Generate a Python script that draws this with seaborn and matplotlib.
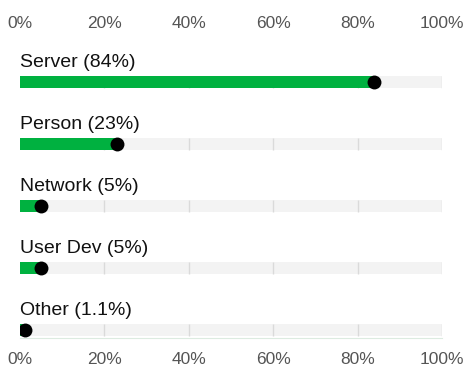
import matplotlib
matplotlib.use("Agg")
import matplotlib.pyplot as plt
import seaborn as sns
import pandas as pd

# Share of incidents by asset category (percent)
categories = ["Server", "Person", "Network", "User Dev", "Other"]
values = [84, 23, 5, 5, 1.1]
x_ticks = [0, 20, 40, 60, 80, 100]
x_tick_labels = ["0%", "20%", "40%", "60%", "80%", "100%"]

GREEN = "#00B140"
TRACK = "#F3F3F3"
GRID = "#DADADA"

sns.set_theme(style="white")
plt.rcParams["font.family"] = ["Liberation Sans", "DejaVu Sans"]

df = pd.DataFrame({"category": categories, "value": values, "full": [100] * len(values)})

fig = plt.figure(figsize=(4.66, 3.66), dpi=100)
ax = fig.add_axes([20 / 466, 28 / 366, 422 / 466, 306 / 366])

bar_h = 0.19

# background tracks
sns.barplot(data=df, x="full", y="category", orient="h", color=TRACK,
            saturation=1, width=bar_h, ax=ax, linewidth=0)
n_track = len(ax.patches)
for p in ax.patches:
    p.set_zorder(1)

# faint gridlines inside each track
for i in range(len(categories)):
    ax.vlines(x_ticks[1:], i - bar_h / 2, i + bar_h / 2, color=GRID, lw=1, zorder=1.5)

# value bars
sns.barplot(data=df, x="value", y="category", orient="h", color=GREEN,
            saturation=1, width=bar_h, ax=ax, linewidth=0)
for p in ax.patches[n_track:]:
    p.set_zorder(2)

# end-cap dots
sns.scatterplot(data=df, x="value", y="category", color="black", s=100,
                linewidth=0, ax=ax, zorder=3, legend=False)

# category labels above each bar
for i, (cat, v) in enumerate(zip(categories, values)):
    ax.annotate(f"{cat} ({v:g}%)", xy=(0, i), xytext=(0, 10.8),
                textcoords="offset points", ha="left", va="baseline",
                fontsize=14, color="#111111", annotation_clip=False)

ax.set_xlim(0, 100)
ax.set_ylim(4.129, -0.8)
ax.set_xticks(x_ticks)
ax.set_xticklabels(x_tick_labels)
ax.set_yticks([])
ax.set_xlabel("")
ax.set_ylabel("")
ax.tick_params(axis="x", length=0, labelsize=12.5, labelcolor="#555555", pad=10)

# percentage scale repeated above the chart
top = ax.secondary_xaxis("top")
top.set_xticks(x_ticks)
top.set_xticklabels(x_tick_labels)
top.tick_params(axis="x", length=0, labelsize=12.5, labelcolor="#555555", pad=1)
top.spines["top"].set_visible(False)

for side in ["left", "top", "right"]:
    ax.spines[side].set_visible(False)
ax.spines["bottom"].set_color("#DCEBE0")
ax.spines["bottom"].set_linewidth(0.8)

fig.savefig("out.png", dpi=100, facecolor="white")
